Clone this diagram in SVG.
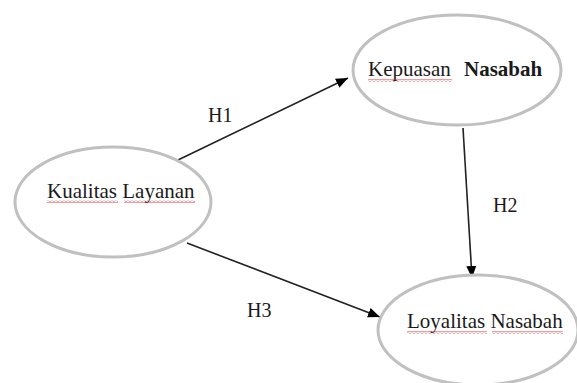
<svg xmlns="http://www.w3.org/2000/svg" width="577" height="383" viewBox="0 0 577 383">
<style>
.node{fill:#fff;stroke:#c0c0c0;stroke-width:3}
.lbl{font-family:"Liberation Serif","Times New Roman",serif;font-size:21px;fill:#1a1a1a}
.hl{font-family:"Liberation Serif","Times New Roman",serif;font-size:20px;fill:#1a1a1a}
.edge{stroke:#222;stroke-width:1.6;fill:none}
.sq{fill:url(#wave)}
</style>
<defs>
<marker id="arr" markerUnits="userSpaceOnUse" markerWidth="12" markerHeight="10" refX="12" refY="5" orient="auto">
<path d="M0,0 L12,5 L0,10 Z" fill="#000"/>
</marker>
<pattern id="wave" width="4" height="3" patternUnits="userSpaceOnUse">
<path d="M0,2.5 L2,0.5 L4,2.5" stroke="#e02020" stroke-width="0.9" fill="none"/>
</pattern>
</defs>
<rect width="577" height="383" fill="#fff"/>
<g id="connectors">
<line class="edge" x1="178" y1="160" x2="348" y2="78" marker-end="url(#arr)"/>
<line class="edge" x1="463" y1="128" x2="472" y2="278" marker-end="url(#arr)"/>
<line class="edge" x1="187" y1="243" x2="380" y2="317" marker-end="url(#arr)"/>
<text class="hl" x="208" y="122">H1</text>
<text class="hl" x="493" y="212">H2</text>
<text class="hl" x="247" y="317">H3</text>
</g>
<g id="kualitas">
<ellipse class="node" cx="113" cy="202" rx="98" ry="55"/>
<text class="lbl" x="47" y="198">Kualitas Layanan</text>
<rect class="sq" x="47" y="200" width="71" height="3"/>
<rect class="sq" x="124" y="200" width="71" height="3"/>
</g>
<g id="kepuasan">
<ellipse class="node" cx="457" cy="70" rx="104" ry="55"/>
<text class="lbl" x="368" y="76">Kepuasan</text>
<text class="lbl" x="464" y="76" font-weight="bold" font-size="22">Nasabah</text>
<rect class="sq" x="368" y="79" width="84" height="3"/>
</g>
<g id="loyalitas">
<ellipse class="node" cx="478" cy="330" rx="100" ry="55"/>
<text class="lbl" x="407" y="328">Loyalitas Nasabah</text>
<rect class="sq" x="407" y="331" width="80" height="3"/>
<rect class="sq" x="492" y="331" width="71" height="3"/>
</g>
</svg>
